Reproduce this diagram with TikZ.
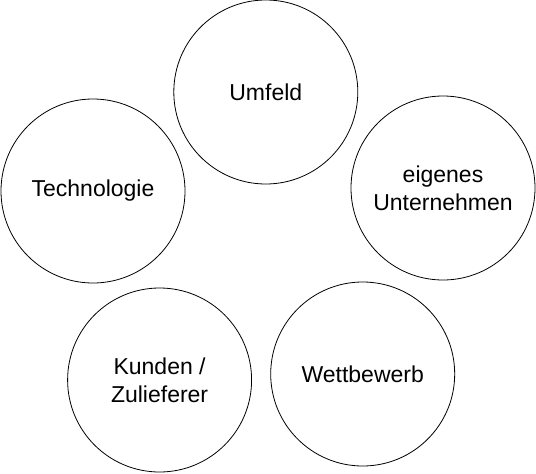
\documentclass[tikz,border=0pt]{standalone}
\usepackage{fontspec}
\setmainfont{Liberation Sans}
\begin{document}
\begin{tikzpicture}[x=1pt,y=-1pt,
  topic/.style={circle,draw,line width=0.8pt,minimum size=184pt,inner sep=0pt,align=center,
    font=\fontsize{23}{28}\selectfont}]
\useasboundingbox (0,0) rectangle (536,474);
\node[topic] (umfeld) at (265.8,92) {Umfeld};
\node[topic] (tech) at (93,191) {Technologie};
\node[topic] (eigen) at (443,188) {eigenes\\Unternehmen};
\node[topic] (kunden) at (159.6,380) {Kunden /\\Zulieferer};
\node[topic] (wett) at (362.7,374) {Wettbewerb};
\end{tikzpicture}
\end{document}
